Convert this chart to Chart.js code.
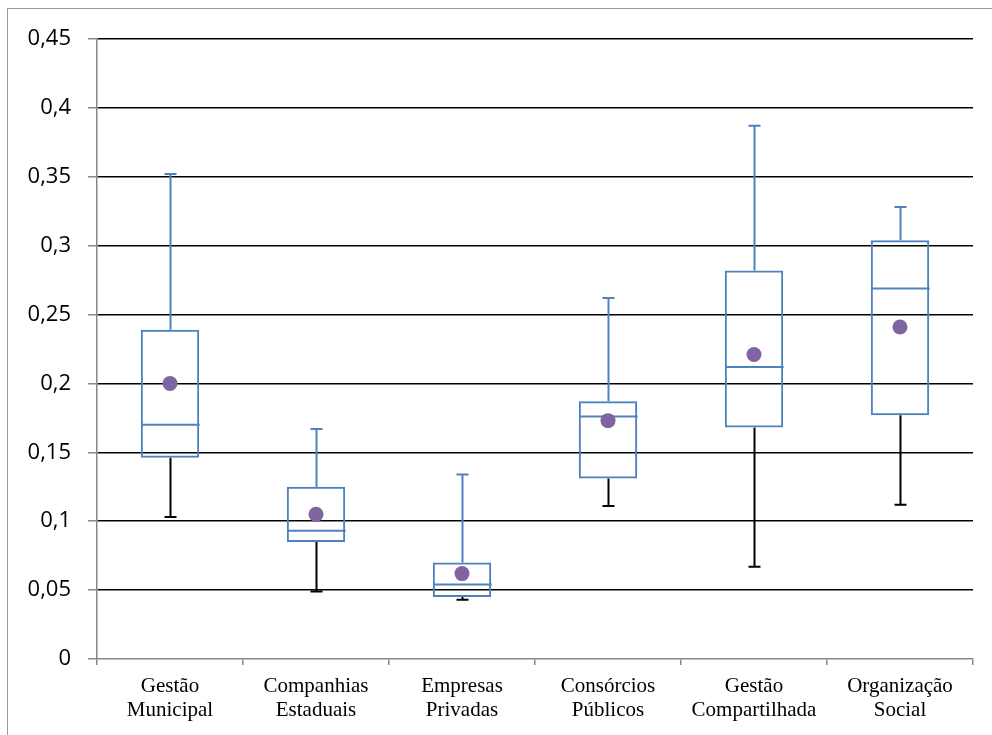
<!DOCTYPE html>
<html>
<head>
<meta charset="utf-8">
<script src="https://cdn.jsdelivr.net/npm/chart.js@4"></script>
<style>
  body { margin: 0; background: #fff; }
  #wrap { position: relative; width: 992px; height: 735px; overflow: hidden; }
  #moldura { position: absolute; left: 7px; top: 8px; width: 1100px; height: 900px; border: 1.5px solid #999; }
  canvas { position: absolute; left: 0; top: 0; }
</style>
</head>
<body>
<div id="wrap">
  <div id="moldura"></div>
  <canvas id="grafico" width="992" height="735"></canvas>
</div>
<script>
// categorias e estatísticas de cada grupo
const categorias = [
  ["Gestão", "Municipal"],
  ["Companhias", "Estaduais"],
  ["Empresas", "Privadas"],
  ["Consórcios", "Públicos"],
  ["Gestão", "Compartilhada"],
  ["Organização", "Social"],
];
const minimo = [0.103, 0.049, 0.043, 0.111, 0.067, 0.112];
const q1 = [0.146, 0.085, 0.045, 0.131, 0.168, 0.177];
const mediana = [0.170, 0.093, 0.054, 0.176, 0.212, 0.269];
const q3 = [0.239, 0.125, 0.070, 0.187, 0.282, 0.304];
const maximo = [0.352, 0.167, 0.134, 0.262, 0.387, 0.328];
const media = [0.200, 0.105, 0.062, 0.173, 0.221, 0.241];
const rotulosY = ["0", "0,05", "0,1", "0,15", "0,2", "0,25", "0,3", "0,35", "0,4", "0,45"];

const azul = "#4F81BD";
const roxo = "#8064A2";

// bigodes, traços das pontas e mediana
const bigodes = {
  id: "bigodes",
  beforeDatasetsDraw(chart) {
    const ctx = chart.ctx;
    const x = chart.scales.x;
    const y = chart.scales.y;
    const caixas = chart.getDatasetMeta(1).data;
    const ponta = 6;
    ctx.save();
    ctx.lineWidth = 2;
    categorias.forEach((c, i) => {
      const cx = Math.round(x.getPixelForValue(i)) + 0.5;
      const meia = caixas[i].width / 2;
      // bigode superior (azul)
      ctx.strokeStyle = azul;
      ctx.beginPath();
      ctx.moveTo(cx, y.getPixelForValue(q3[i]));
      ctx.lineTo(cx, y.getPixelForValue(maximo[i]));
      ctx.moveTo(cx - ponta, y.getPixelForValue(maximo[i]));
      ctx.lineTo(cx + ponta, y.getPixelForValue(maximo[i]));
      ctx.stroke();
      // mediana
      ctx.beginPath();
      ctx.moveTo(cx - meia, y.getPixelForValue(mediana[i]));
      ctx.lineTo(cx + meia, y.getPixelForValue(mediana[i]));
      ctx.stroke();
      // bigode inferior (preto)
      ctx.strokeStyle = "#000";
      ctx.beginPath();
      ctx.moveTo(cx, y.getPixelForValue(q1[i]));
      ctx.lineTo(cx, y.getPixelForValue(minimo[i]));
      ctx.moveTo(cx - ponta, y.getPixelForValue(minimo[i]));
      ctx.lineTo(cx + ponta, y.getPixelForValue(minimo[i]));
      ctx.stroke();
    });
    ctx.restore();
  },
};

new Chart(document.getElementById("grafico"), {
  type: "bar",
  data: {
    labels: categorias,
    datasets: [
      {
        type: "line",
        label: "Média",
        data: media,
        showLine: false,
        pointRadius: 7.5,
        pointHoverRadius: 7.5,
        pointBackgroundColor: roxo,
        pointBorderWidth: 0,
        order: 0,
      },
      {
        label: "Caixa",
        data: categorias.map((c, i) => [q1[i], q3[i]]),
        backgroundColor: "rgba(0,0,0,0)",
        borderColor: azul,
        borderWidth: 2,
        borderSkipped: false,
        barPercentage: 0.4,
        categoryPercentage: 1,
        order: 1,
      },
    ],
  },
  options: {
    responsive: false,
    animation: false,
    layout: { padding: { top: 39, right: 19, left: 0, bottom: 0 } },
    plugins: { legend: { display: false }, tooltip: { enabled: false } },
    scales: {
      x: {
        offset: true,
        grid: { offset: true, drawOnChartArea: false, tickLength: 6, tickColor: "#888", lineWidth: 1.5 },
        border: { color: "#888", width: 1.5 },
        ticks: {
          color: "#000",
          padding: 9,
          maxRotation: 0,
          font: { family: "'Liberation Serif', 'Times New Roman', serif", size: 21, lineHeight: 1.15 },
        },
        afterFit(scale) { scale.height = 76; },
      },
      y: {
        min: 0,
        max: 0.45,
        ticks: {
          stepSize: 0.05,
          color: "#000",
          padding: 17,
          font: { family: "'Open Sans', 'Noto Sans', sans-serif", size: 22 },
          callback: (v, i) => rotulosY[i],
        },
        grid: {
          color: (c) => (c.tick && c.tick.value === 0 ? "rgba(0,0,0,0)" : "#000"),
          tickColor: "#888",
          tickLength: 9,
          lineWidth: 1.5,
        },
        border: { color: "#888", width: 1.5 },
        afterFit(scale) { scale.width = 97; },
      },
    },
  },
  plugins: [bigodes],
});
</script>
</body>
</html>
